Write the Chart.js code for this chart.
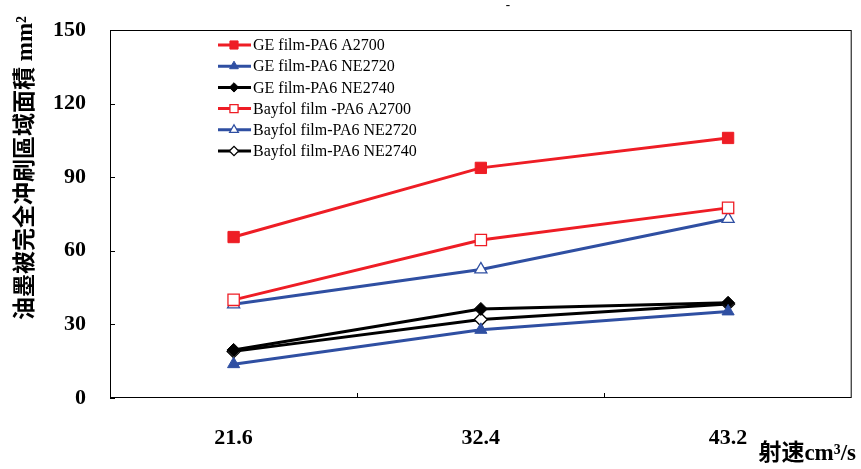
<!DOCTYPE html>
<html>
<head>
<meta charset="utf-8">
<script src="https://cdn.jsdelivr.net/npm/chart.js@4.4.0/dist/chart.umd.min.js"></script>
<style>
  html, body { margin: 0; padding: 0; background: #fff; }
  #wrap { width: 861px; height: 469px; }
</style>
</head>
<body>
<div id="wrap"><canvas id="chart"></canvas></div>
<script>
// Data
const categories = ['21.6', '32.4', '43.2'];
const yTicks = [0, 30, 60, 90, 120, 150];

const geA2700 = [65.6, 93.8, 106];
const geNE2720 = [13.8, 27.8, 35.3];
const geNE2740 = [19.6, 36.3, 38.8];
const bayA2700 = [40, 64.4, 77.5];
const bayNE2720 = [38.2, 52.4, 73];
const bayNE2740 = [19, 32, 38.3];

const RED = '#ee1d25';
const BLUE = '#2f4fa2';
const BLACK = '#000000';
const SERIF = '"Liberation Serif", "Times New Roman", serif';
const CJK = '"Liberation Serif", "Noto Sans CJK SC", serif';

const series = (label, data, color, style, filled, radius) => ({
  label,
  data,
  borderColor: color,
  borderWidth: 3,
  backgroundColor: filled ? color : '#ffffff',
  pointStyle: style,
  pointRadius: radius,
  pointBorderColor: color,
  pointBackgroundColor: filled ? color : '#ffffff',
  pointBorderWidth: filled ? 1 : 1.3,
  tension: 0
});

const datasets = [
  series('GE film-PA6 A2700', geA2700, RED, 'rect', true, 8),
  series('GE film-PA6 NE2720', geNE2720, BLUE, 'triangle', true, 7),
  series('GE film-PA6 NE2740', geNE2740, BLACK, 'rectRot', true, 6.5),
  series('Bayfol film -PA6 A2700', bayA2700, RED, 'rect', false, 8),
  series('Bayfol film-PA6 NE2720', bayNE2720, BLUE, 'triangle', false, 7),
  series('Bayfol film-PA6 NE2740', bayNE2740, BLACK, 'rectRot', false, 6.5)
];

// frame, inward ticks, legend and axis titles
const decor = {
  id: 'decor',
  afterDatasetsDraw(chart) {
    const { ctx, chartArea: a, scales: { x, y } } = chart;
    ctx.save();
    ctx.strokeStyle = '#000';
    ctx.lineWidth = 1;
    ctx.strokeRect(a.left + 0.5, a.top + 0.5, a.right - a.left - 1, a.bottom - a.top - 1);

    ctx.beginPath();
    yTicks.forEach(v => {
      const py = Math.round(y.getPixelForValue(v)) + 0.5;
      ctx.moveTo(a.left, py);
      ctx.lineTo(a.left + 5, py);
    });
    for (let i = 0; i < categories.length - 1; i++) {
      const px = Math.round((x.getPixelForValue(i) + x.getPixelForValue(i + 1)) / 2) + 0.5;
      ctx.moveTo(px, a.bottom);
      ctx.lineTo(px, a.bottom - 5);
    }
    ctx.stroke();

    // legend
    ctx.font = '16px ' + SERIF;
    ctx.textBaseline = 'middle';
    ctx.textAlign = 'left';
    chart.data.datasets.forEach((ds, i) => {
      const ly = 45 + i * 21.2;
      ctx.strokeStyle = ds.borderColor;
      ctx.lineWidth = 3;
      ctx.beginPath();
      ctx.moveTo(218, ly);
      ctx.lineTo(251, ly);
      ctx.stroke();
      ctx.strokeStyle = ds.pointBorderColor;
      ctx.fillStyle = ds.pointBackgroundColor;
      ctx.lineWidth = ds.pointBorderWidth;
      Chart.helpers.drawPoint(ctx, {
        pointStyle: ds.pointStyle,
        radius: ds.pointRadius * 0.72,
        rotation: 0,
        borderWidth: ds.pointBorderWidth
      }, 234, ly);
      ctx.fillStyle = '#000';
      ctx.fillText(ds.label, 253, ly + 1);
    });

    // axis titles
    ctx.fillStyle = '#000';
    ctx.font = 'bold 23px ' + CJK;
    ctx.save();
    ctx.translate(26, 168);
    ctx.rotate(-Math.PI / 2);
    ctx.textAlign = 'center';
    ctx.fillText('油墨被完全冲刷區域面積 mm²', 0, 0);
    ctx.restore();

    ctx.textAlign = 'right';
    ctx.fillText('射速cm³/s', 856, 454);

    ctx.font = 'bold 13px ' + SERIF;
    ctx.textAlign = 'center';
    ctx.fillText('-', 508, 6);
    ctx.restore();
  }
};

new Chart(document.getElementById('chart'), {
  type: 'line',
  data: { labels: categories, datasets },
  options: {
    responsive: true,
    maintainAspectRatio: false,
    animation: false,
    layout: { padding: { top: 30, right: 9, left: 0, bottom: 0 } },
    plugins: { legend: { display: false }, tooltip: { enabled: false } },
    scales: {
      x: {
        offset: true,
        grid: { display: false, drawTicks: false },
        border: { display: false },
        ticks: { color: '#000', padding: 27, font: { family: SERIF, size: 22, weight: 'bold' } },
        afterFit: s => { s.height = 71; s.paddingLeft = 0; s.paddingRight = 0; }
      },
      y: {
        min: 0,
        max: 150,
        afterBuildTicks: s => { s.ticks = yTicks.map(v => ({ value: v })); },
        grid: { display: false, drawTicks: false },
        border: { display: false },
        ticks: { color: '#000', padding: 24, font: { family: SERIF, size: 22, weight: 'bold' } },
        afterFit: s => { s.width = 110; s.paddingTop = 0; s.paddingBottom = 0; }
      }
    }
  },
  plugins: [decor]
});
</script>
</body>
</html>
